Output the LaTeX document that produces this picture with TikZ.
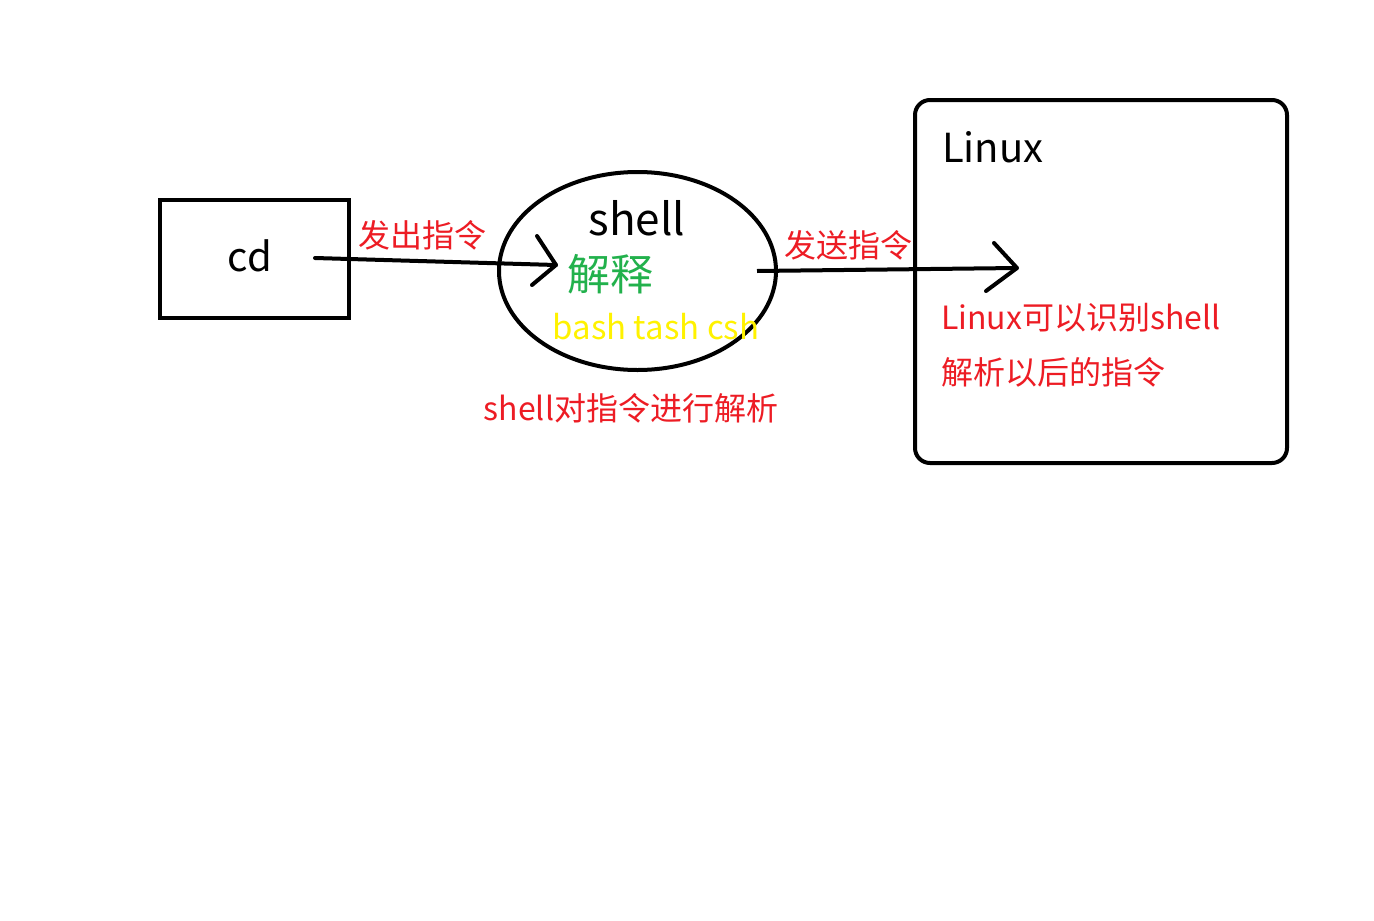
\documentclass[tikz,border=0pt]{standalone}
\usepackage{fontspec}
\setmainfont{Noto Sans CJK SC}
\definecolor{myred}{RGB}{237,28,36}
\definecolor{mygreen}{RGB}{34,177,76}
\definecolor{myyellow}{RGB}{255,242,0}
\begin{document}
\begin{tikzpicture}[x=1pt,y=-1pt,
  thick line/.style={line width=4pt,black},
  redtxt/.style={text=myred,font=\fontsize{32}{36}\selectfont,inner sep=0pt},
  blacktxt/.style={text=black,inner sep=0pt}]
\useasboundingbox[fill=white] (0,0) rectangle (1374,921);
% cd box
\node[draw,thick line,minimum width=189pt,minimum height=118pt,inner sep=0pt] (cd) at (254.5,259) {};
\node[blacktxt,font=\fontsize{40}{44}\selectfont] (cdt) at (250,256) {cd};
% ellipse
\draw[thick line] (637.5,271) ellipse [x radius=138.5, y radius=99];
\coordinate (ell) at (637.5,271);
\node[blacktxt,font=\fontsize{44}{48}\selectfont] (shell) at (637,218) {shell};
\node[inner sep=0pt,text=mygreen,font=\fontsize{43}{48}\selectfont] (jieshi) at (610,274) {解释};
\node[inner sep=0pt,text=myyellow,font=\fontsize{33}{36}\selectfont] (bash) at (656,327) {bash tash csh};
% Linux box
\draw[thick line,rounded corners=15pt] (915,100) rectangle (1287,463);
\node[inner sep=0pt] (linuxbox) at (1101,281.5) {};
\node[blacktxt,anchor=west,font=\fontsize{40}{44}\selectfont] (linux) at (942,147) {Linux};
% arrows
\coordinate (a1s) at (315,258);
\coordinate (a1e) at (556,265);
\draw[thick line,line cap=round] (a1s) -- (a1e);
\draw[thick line,line cap=round,line join=round] (537,236) -- (a1e) -- (532,285);
\coordinate (a2s) at (757,271);
\coordinate (a2e) at (1017,268);
\draw[thick line] (a2s) -- (a2e);
\draw[thick line,line cap=round,line join=round] (994,243) -- (a2e) -- (986,291);
% red labels
\node[redtxt] (l1) at (422,235) {发出指令};
\node[redtxt] (l2) at (848,245) {发送指令};
\node[redtxt] (l3) at (631,408) {shell对指令进行解析};
\node[redtxt,anchor=west] (l4) at (941,318) {Linux可以识别shell};
\node[redtxt,anchor=west] (l5) at (941,372) {解析以后的指令};
\end{tikzpicture}
\end{document}
